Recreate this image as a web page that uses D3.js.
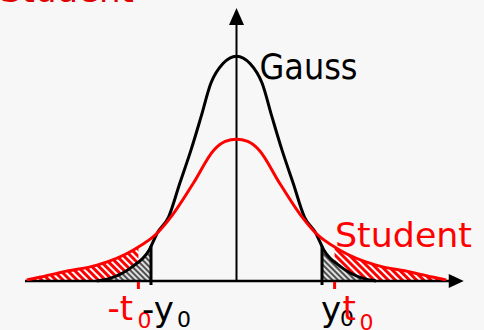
<!DOCTYPE html>
<html>
<head>
<meta charset="utf-8">
<script src="https://cdn.jsdelivr.net/npm/d3@7"></script>
<style>
  body { margin: 0; background: #f7f7f7; }
  svg { display: block; }
</style>
</head>
<body>
<div id="chart"></div>
<script>
// Gauss curve (x in sigma units, y density)
const gaussX = [-3.1, -2.8, -2.32, -1.94, -1.76, -1.51, -1.26, -1.01, -0.79, -0.57, -0.3, 0, 0.3, 0.57, 0.79, 1.01, 1.26, 1.51, 1.76, 1.94, 2.32, 2.8, 3.1];
const gaussY = [0, 0.005, 0.025, 0.055, 0.085, 0.113, 0.173, 0.232, 0.290, 0.350, 0.385, 0.398, 0.385, 0.350, 0.290, 0.232, 0.173, 0.113, 0.085, 0.055, 0.025, 0.005, 0];

// Student curve
const studentX = [-4.66, -4.35, -3.86, -3.1, -2.29, -1.76, -1.46, -0.96, -0.5, -0.25, 0, 0.25, 0.5, 0.96, 1.46, 1.76, 2.29, 3.1, 3.86, 4.35, 4.66];
const studentY = [0.002, 0.007, 0.016, 0.028, 0.055, 0.085, 0.113, 0.173, 0.232, 0.247, 0.251, 0.247, 0.232, 0.173, 0.113, 0.085, 0.055, 0.028, 0.016, 0.007, 0.002];

// thresholds
const y0 = 1.9;
const t0 = 2.18;

// axis extents
const xAxisMin = -4.7, xAxisMax = 5.05, yAxisMax = 0.483;

const width = 484, height = 330;

const svg = d3.select('#chart').append('svg')
    .attr('width', width)
    .attr('height', height);

const x = d3.scaleLinear().domain([-5, 5]).range([11.5, 461.5]);
const y = d3.scaleLinear().domain([0, 0.4]).range([281, 55]);

const gauss = gaussX.map((v, i) => [v, gaussY[i]]);
const student = studentX.map((v, i) => [v, studentY[i]]);

const defs = svg.append('defs');

const red = defs.append('pattern')
    .attr('id', 'hatchRed')
    .attr('patternUnits', 'userSpaceOnUse')
    .attr('width', 5).attr('height', 5)
    .attr('patternTransform', 'rotate(-45)');
red.append('rect').attr('width', 5).attr('height', 5).attr('fill', '#fff');
red.append('rect').attr('width', 3).attr('height', 5).attr('fill', '#ff0000');

const grey = defs.append('pattern')
    .attr('id', 'hatchGrey')
    .attr('patternUnits', 'userSpaceOnUse')
    .attr('width', 4).attr('height', 4)
    .attr('patternTransform', 'rotate(-45)');
grey.append('rect').attr('width', 4).attr('height', 4).attr('fill', '#e0e0e0');
grey.append('rect').attr('width', 2).attr('height', 4).attr('fill', '#505050');

// clip regions for the tails
const clip = (id, a, b) => defs.append('clipPath').attr('id', id)
    .append('rect')
    .attr('x', x(a)).attr('y', 0)
    .attr('width', x(b) - x(a)).attr('height', height);
clip('tL', -5, -t0);
clip('tR', t0, 5);
clip('yL', -5, -y0);
clip('yR', y0, 5);

const area = d3.area()
    .x(d => x(d[0]))
    .y0(y(0))
    .y1(d => y(d[1]))
    .curve(d3.curveMonotoneX);

const line = d3.line()
    .x(d => x(d[0]))
    .y(d => y(d[1]))
    .curve(d3.curveMonotoneX);

// hatched tails
['tL', 'tR'].forEach(id => {
    svg.append('path').attr('d', area(student))
        .attr('fill', 'url(#hatchRed)')
        .attr('clip-path', `url(#${id})`);
});
['yL', 'yR'].forEach(id => {
    svg.append('path').attr('d', area(gauss))
        .attr('fill', 'url(#hatchGrey)')
        .attr('clip-path', `url(#${id})`);
});

// x axis with arrow
svg.append('line')
    .attr('x1', x(xAxisMin)).attr('x2', x(xAxisMax) - 10)
    .attr('y1', y(0)).attr('y2', y(0))
    .attr('stroke', '#000').attr('stroke-width', 2.5);
svg.append('path')
    .attr('d', `M${x(xAxisMax)},${y(0)} L${x(xAxisMax) - 15},${y(0) - 7} L${x(xAxisMax) - 15},${y(0) + 7} Z`)
    .attr('fill', '#000');

// y axis with arrow
svg.append('line')
    .attr('x1', x(0)).attr('x2', x(0))
    .attr('y1', y(0)).attr('y2', y(yAxisMax) + 10)
    .attr('stroke', '#000').attr('stroke-width', 2);
svg.append('path')
    .attr('d', `M${x(0)},${y(yAxisMax)} L${x(0) - 7.5},${y(yAxisMax) + 17} L${x(0) + 7.5},${y(yAxisMax) + 17} Z`)
    .attr('fill', '#000');

// threshold marks
const gAt = v => {
    // height of the gauss curve at v, from the nearest read points
    const i = d3.bisector(d => d[0]).left(gauss, v);
    const a = gauss[i - 1], b = gauss[i];
    return a[1] + (b[1] - a[1]) * (v - a[0]) / (b[0] - a[0]);
};
[-y0, y0].forEach(v => {
    svg.append('line')
        .attr('x1', x(v)).attr('x2', x(v))
        .attr('y1', y(0) + 4).attr('y2', y(gAt(v)))
        .attr('stroke', '#000').attr('stroke-width', 3);
});
[-t0, t0].forEach(v => {
    svg.append('line')
        .attr('x1', x(v)).attr('x2', x(v))
        .attr('y1', y(0) + 1).attr('y2', y(0) + 8)
        .attr('stroke', '#ff0000').attr('stroke-width', 3);
});

// curves
svg.append('path').attr('d', line(gauss))
    .attr('fill', 'none').attr('stroke', '#000').attr('stroke-width', 3);
svg.append('path').attr('d', line(student))
    .attr('fill', 'none').attr('stroke', '#ff0000').attr('stroke-width', 3);

// labels
const font = 'DejaVu Sans';
// title above the frame, only its bottom edge shows
svg.append('text').attr('x', 0).attr('y', 1.5)
    .attr('font-family', font).attr('font-size', 34).attr('fill', '#e00000')
    .text('Student');

svg.append('text').attr('x', x(0) + 23).attr('y', 79)
    .attr('font-family', font).attr('font-size', 35)
    .attr('textLength', 98).attr('lengthAdjust', 'spacingAndGlyphs')
    .attr('fill', '#000').text('Gauss');
svg.append('text').attr('x', 335).attr('y', 247)
    .attr('font-family', font).attr('font-size', 34)
    .attr('textLength', 137).attr('lengthAdjust', 'spacingAndGlyphs')
    .attr('fill', '#ff0000').text('Student');

const label = (txt, px, py, size, color) => svg.append('text')
    .attr('x', px).attr('y', py)
    .attr('font-family', font).attr('font-size', size)
    .attr('fill', color).text(txt);

// left: -t0 then -y0
label('-t', x(-t0) - 31, 320, 34, '#ff0000');
label('0', x(-t0) - 1, 328, 22, '#ff0000');
label('-y', x(-y0) - 9, 321, 34, '#000');
label('0', x(-y0) + 26, 327, 22, '#000');
// right: y0 then t0
label('y', x(y0) - 1, 321, 34, '#000');
label('0', x(y0) + 18, 326, 22, '#000');
label('t', x(t0) + 8, 320, 34, '#ff0000');
label('0', x(t0) + 25, 330, 22, '#ff0000');
</script>
</body>
</html>
